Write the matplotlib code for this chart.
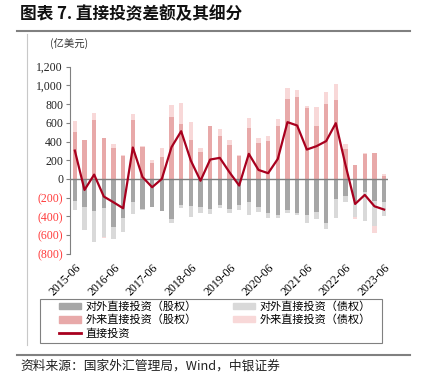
import numpy as np
import matplotlib
matplotlib.use("Agg")
import matplotlib.pyplot as plt
from matplotlib.lines import Line2D
from matplotlib.patches import Rectangle, Patch

plt.rcParams['font.family'] = ['Noto Sans CJK SC', 'DejaVu Sans']

quarters = ["2015-06", "2015-09", "2015-12", "2016-03", "2016-06", "2016-09", "2016-12", "2017-03",
            "2017-06", "2017-09", "2017-12", "2018-03", "2018-06", "2018-09", "2018-12", "2019-03",
            "2019-06", "2019-09", "2019-12", "2020-03", "2020-06", "2020-09", "2020-12", "2021-03",
            "2021-06", "2021-09", "2021-12", "2022-03", "2022-06", "2022-09", "2022-12", "2023-03",
            "2023-06"]

# 亿美元
out_equity = [-232, -303, -346, -311, -518, -421, -250, -321, -296, -339, -428, -275, -286, -303, -321, -279,
              -325, -275, -250, -303, -364, -386, -328, -364, -382, -355, -473, -210, -178, -232, -143, -232,
              -250]
out_debt = [-96, -243, -325, -307, -125, -150, -125, -10, -5, -5, -43, -36, -118, -64, -54, -36,
            -40, -57, -132, -54, -54, -32, -40, -25, -93, -72, -63, -212, -72, -179, -303, -275,
            -143]
in_equity = [500, 411, 632, 436, 328, 243, 635, 346, 171, 232, 660, 582, 411, 286, 566, 455,
             366, 243, 543, 389, 403, 561, 850, 875, 757, 571, 800, 839, 321, 154, 268, 282,
             36]
in_debt = [114, 8, 78, -10, 43, 8, 61, 5, 36, 100, 133, 232, 200, 46, 5, 75,
           48, 10, 107, 50, 57, 78, 118, 78, 28, 196, 130, 172, 54, -18, 5, -75,
           18]
direct_net = [303, -118, 46, -189, -250, -314, 336, 20, -89, 0, 339, 510, 196, -20, 207, 225,
              71, -71, 268, 96, 61, 214, 607, 571, 314, 350, 404, 596, 150, -268, -171, -293,
              -328]

labels = ["对外直接投资（股权）", "对外直接投资（债权）", "外来直接投资（股权）", "外来直接投资（债权）", "直接投资"]
colors = ["#a6a6a6", "#d9d9d9", "#e8a9a9", "#f8d8d8"]
line_color = "#a8001e"
W, H = 425, 388

fig = plt.figure(figsize=(W / 100, H / 100), dpi=100)
ax = fig.add_axes([70 / W, 1 - 253.7 / H, 318 / W, 187 / H])

x = np.arange(len(quarters))
pos_cum = np.zeros(len(x))
neg_cum = np.zeros(len(x))
for vals, c in zip([out_equity, out_debt, in_equity, in_debt], colors):
    v = np.array(vals, dtype=float)
    bottom = np.where(v >= 0, pos_cum, neg_cum)
    ax.bar(x, v, 0.45, bottom=bottom, color=c, linewidth=0)
    pos_cum += np.where(v >= 0, v, 0)
    neg_cum += np.where(v < 0, v, 0)

ax.axhline(0, color="#7f7f7f", lw=1.0, zorder=2)
ax.plot(x, direct_net, color=line_color, lw=1.6, zorder=3)

ax.set_xlim(-0.5, 32.4)
ax.set_ylim(-800, 1200)
yt = np.arange(-800, 1201, 200)
ax.set_yticks(yt)
ylabs = [f"{t:,}" if t >= 0 else f"({-t:,})" for t in yt]
ax.set_yticklabels(ylabs, family="Liberation Serif", fontsize=8.5)
for lab, t in zip(ax.get_yticklabels(), yt):
    lab.set_color("#ff3b3b" if t < 0 else "#222222")
ax.tick_params(axis="y", length=3, color="#808080", pad=2)

ax.set_xticks(x[::4])
ax.set_xticklabels(quarters[::4], rotation=45, ha="right", rotation_mode="anchor",
                   family="Liberation Serif", fontsize=8.5)
ax.tick_params(axis="x", length=0, pad=6)

for s in ["top", "right", "bottom"]:
    ax.spines[s].set_visible(False)
ax.spines["left"].set_color("#808080")
ax.spines["left"].set_linewidth(0.8)

# title and frame decorations
fig.text(20 / W, 1 - 14 / H, "图表 7. 直接投资差额及其细分", fontsize=12, fontweight="bold",
         va="center", ha="left", color="#111111")
fig.add_artist(Line2D([17 / W, 410 / W], [1 - 31 / H] * 2, color="#808080", lw=1.5))
fig.add_artist(Line2D([26.7 / W] * 2, [1 - 34 / H, 1 - 345 / H], color="#c8c8c8", lw=0.8))
fig.text(50 / W, 1 - 44 / H, "(亿美元)", fontsize=7.5, va="center", ha="left", color="#333333")

# legend
handles = [Patch(color=colors[0]), Patch(color=colors[2]), Line2D([], [], color=line_color, lw=2),
           Patch(color=colors[1]), Patch(color=colors[3])]
hl = [labels[0], labels[2], labels[4], labels[1], labels[3]]
fig.legend(handles, hl, loc="upper left", bbox_to_anchor=(57 / W, 1 - 299 / H), ncol=2,
           frameon=False, fontsize=8, handlelength=2.0, handleheight=0.5, handletextpad=0.4,
           labelspacing=0.25, columnspacing=3.2, borderpad=0.2, borderaxespad=0)
fig.add_artist(Rectangle((40 / W, 1 - 343 / H), 342 / W, 44 / H, fill=False,
                         edgecolor="#808080", lw=0.8, transform=fig.transFigure))

fig.add_artist(Line2D([17 / W, 410 / W], [1 - 355 / H] * 2, color="#808080", lw=1.5))
fig.text(20 / W, 1 - 366 / H, "资料来源：国家外汇管理局，Wind，中银证券", fontsize=9.2,
         va="center", ha="left", color="#222222", style="italic")

fig.savefig("out.png", dpi=100)
